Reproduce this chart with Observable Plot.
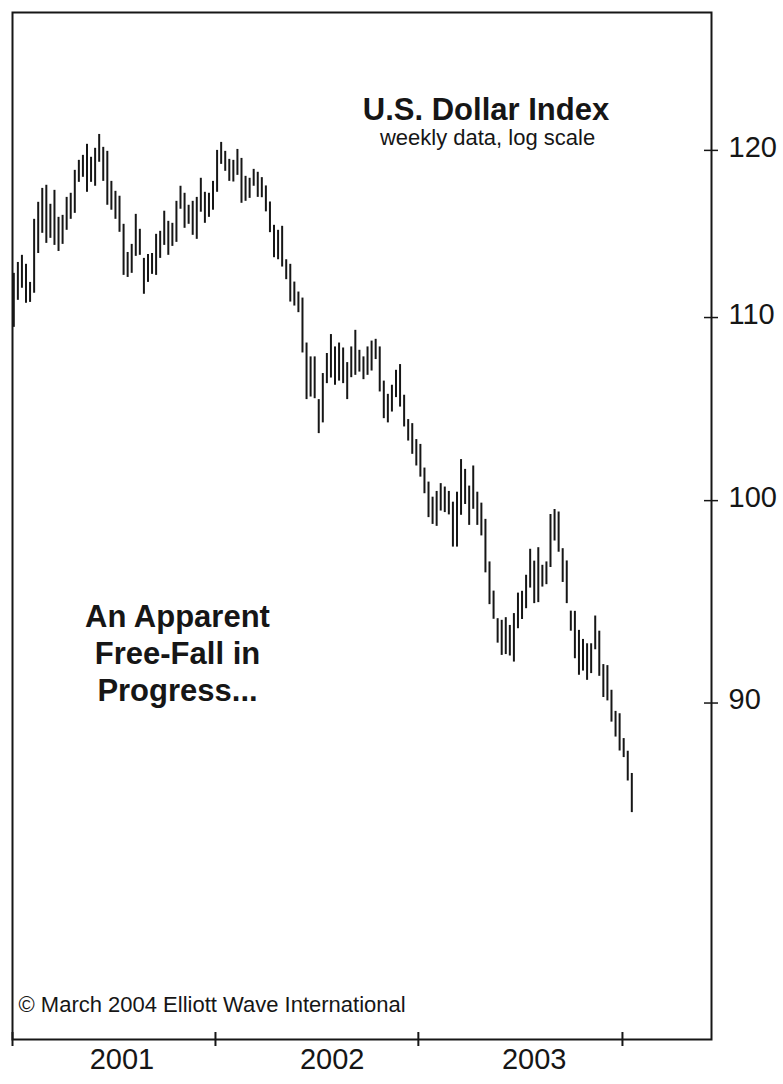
<!DOCTYPE html>
<html>
<head>
<meta charset="utf-8">
<script src="https://cdn.jsdelivr.net/npm/d3@7"></script>
<script src="https://cdn.jsdelivr.net/npm/@observablehq/plot@0.6"></script>
<style>
  html, body { margin: 0; padding: 0; background: #fff; }
  #chart svg { display: block; }
</style>
</head>
<body>
<div id="chart"></div>
<script>
// Weekly high / low of the U.S. Dollar Index, week 1 = first week of 2001
const highs = [
  112.56,113.20,113.62,113.09,112.03,115.77,116.80,117.65,117.84,116.68,
  117.53,115.89,116.01,117.10,117.35,118.76,119.38,119.69,120.38,119.57,
  120.13,121.00,120.19,119.94,118.08,117.47,117.17,115.47,113.79,114.27,
  116.07,115.17,113.44,113.67,113.73,114.87,115.05,116.26,115.65,115.53,
  116.86,117.78,117.35,116.62,116.86,117.10,118.27,117.41,117.35,118.08,
  120.00,120.50,119.94,119.44,119.38,120.06,119.50,118.39,118.27,118.82,
  118.64,118.31,117.80,116.82,115.41,115.11,115.35,113.36,113.09,112.05,
  111.47,111.12,108.55,107.77,107.77,105.40,106.84,107.96,109.03,108.33,
  108.55,108.27,107.45,108.33,109.27,108.14,107.77,108.33,108.66,108.76,
  108.33,106.42,105.69,106.19,107.02,107.34,105.64,104.31,104.09,103.23,
  102.97,101.71,100.97,100.18,100.48,100.89,100.71,100.48,99.92,100.44,
  102.16,101.64,100.76,101.82,100.44,99.87,99.03,96.86,95.40,94.04,
  93.96,94.09,93.71,94.29,95.30,95.39,96.19,97.50,96.90,97.58,
  96.69,96.86,99.28,99.54,99.41,97.53,96.91,94.41,94.40,93.47,
  93.03,92.82,92.82,94.17,93.43,91.82,91.77,90.60,89.61,89.50,
  88.35,87.77,86.76
];
const lows = [
  109.44,110.99,111.69,110.82,110.87,111.40,113.73,114.93,114.33,114.63,
  114.21,113.85,114.27,115.11,115.77,116.13,118.02,118.33,117.41,118.02,
  117.78,119.26,118.08,116.62,116.32,115.77,114.99,112.44,112.32,112.56,
  113.56,113.62,111.34,112.03,112.50,112.44,113.44,114.21,113.62,114.15,
  114.39,116.38,115.23,115.47,114.81,114.57,116.20,115.53,115.89,116.32,
  117.41,119.13,118.70,118.08,118.04,118.45,116.74,116.86,117.04,117.78,
  117.10,117.08,116.22,114.97,113.48,113.36,112.93,112.19,110.89,110.66,
  110.28,107.99,105.40,105.54,105.45,103.55,104.13,106.28,106.59,106.19,
  106.42,106.28,105.40,106.61,106.74,106.92,106.50,106.74,106.98,107.62,
  105.82,104.36,104.13,104.72,105.51,104.99,103.91,103.15,102.44,101.82,
  101.23,100.36,99.12,98.77,98.67,99.46,99.38,99.26,97.61,97.61,
  99.24,99.80,98.72,99.55,98.72,98.18,96.31,94.73,94.01,92.85,
  92.26,92.30,92.23,91.94,93.55,94.00,94.53,95.55,94.78,94.83,
  95.60,95.72,96.58,97.92,97.35,95.83,94.78,93.43,92.10,91.31,
  91.51,91.07,91.39,92.53,91.26,90.26,90.10,89.11,88.42,87.78,
  87.48,86.42,85.01
];
const weeks = highs.map((_, i) => i + 1);

// Axes: y ticks (log scale), year boundaries and year labels (in week units)
const yTicks = [90, 100, 110, 120];
const yearTickWeeks = [0.68, 50.6, 100.5, 150.7];
const yearLabels = ["2001", "2002", "2003"];
const yearLabelWeeks = [27.6, 79.3, 129.0];

const xDomain = [0.68, 172.6];
const yDomain = [75.54, 128.93];

const title = "U.S. Dollar Index";
const subtitle = "weekly data, log scale";
const note = "An Apparent\nFree-Fall in\nProgress...";
const credit = "© March 2004 Elliott Wave International";

const bars = weeks.map((w, i) => ({week: w, high: highs[i], low: lows[i]}));
const ink = "#161616";
const font = "'Liberation Sans', Arial, Helvetica, sans-serif";

const chart = Plot.plot({
  width: 783,
  height: 1084,
  marginLeft: 12,
  marginRight: 72,
  marginTop: 12,
  marginBottom: 45,
  style: {fontFamily: font, background: "#fff", color: ink, overflow: "visible"},
  x: {type: "linear", domain: xDomain, axis: null},
  y: {type: "log", domain: yDomain, axis: null},
  marks: [
    Plot.ruleX(bars, {x: "week", y1: "low", y2: "high", stroke: ink, strokeWidth: 2}),
    Plot.frame({stroke: ink, strokeWidth: 2}),
    // bottom ticks crossing the frame
    Plot.ruleX(yearTickWeeks, {x: d => d, y1: () => yDomain[0], y2: () => yDomain[0], insetTop: -7, insetBottom: -7, stroke: ink, strokeWidth: 2}),
    // right ticks crossing the frame
    Plot.ruleY(yTicks, {y: d => d, x1: () => xDomain[1], x2: () => xDomain[1], insetLeft: -7, insetRight: -7, stroke: ink, strokeWidth: 1.5}),
    Plot.text(yTicks, {y: d => d, text: d => String(d), frameAnchor: "right", dx: 17, dy: -3, textAnchor: "start", fontSize: 29, fill: ink}),
    Plot.text(yearLabels, {x: (d, i) => yearLabelWeeks[i], text: d => d, frameAnchor: "bottom", dy: 29, textAnchor: "middle", fontSize: 29, fill: ink}),
    Plot.text([title], {text: d => d, frameAnchor: "top-left", dx: 473.5, dy: 85, textAnchor: "middle", fontSize: 31, fontWeight: "bold", fill: ink}),
    Plot.text([subtitle], {text: d => d, frameAnchor: "top-left", dx: 475, dy: 117, textAnchor: "middle", fontSize: 22, fill: ink}),
    Plot.text([note], {text: d => d, frameAnchor: "top-left", dx: 165, dy: 589, textAnchor: "middle", lineAnchor: "top", lineHeight: 1.18, fontSize: 31, fontWeight: "bold", fill: ink}),
    Plot.text([credit], {text: d => d, frameAnchor: "bottom-left", dx: 6, dy: -28, textAnchor: "start", fontSize: 22, fill: ink})
  ]
});
document.getElementById("chart").appendChild(chart);
</script>
</body>
</html>
